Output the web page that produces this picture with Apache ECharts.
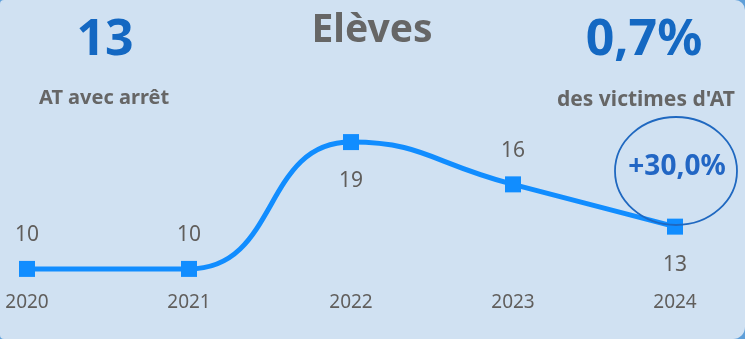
<!DOCTYPE html>
<html><head><meta charset="utf-8">
<script src="https://cdn.jsdelivr.net/npm/echarts@6/dist/echarts.min.js"></script>
<style>html,body{margin:0;padding:0;background:#5f9fd9;}#c{width:745px;height:339px;}</style>
</head><body><div id="c"></div>
<script>
const years = ['2020','2021','2022','2023','2024'];
const values = [10, 10, 19, 16, 13];
const labelPos = ['top','top','bottom','top','bottom'];
const title = 'Elèves';
const kpiLeftValue = '13';
const kpiLeftLabel = 'AT avec arrêt';
const kpiRightValue = '0,7%';
const kpiRightLabel = "des victimes d'AT";
const evolution = '+30,0%';

const F = '"Noto Sans", "Open Sans", sans-serif';
const chart = echarts.init(document.getElementById('c'));
chart.setOption({
  backgroundColor: '#5f9fd9',
  animation: false,
  grid: {left: 27, right: 70, top: 128, bottom: 56},
  xAxis: {
    type: 'category', data: years, boundaryGap: false,
    axisLine: {show: false}, axisTick: {show: false},
    axisLabel: {color: '#605e5c', fontFamily: F, fontSize: 19, margin: 10}
  },
  yAxis: {type: 'value', min: 9, max: 20, show: false, splitLine: {show: false}},
  graphic: [
    {type: 'rect', z: -10, silent: true, shape: {x: 0, y: 0, width: 745, height: 339, r: [4, 10, 12, 4]}, style: {fill: '#d0e1f2'}},
    {type: 'text', x: 372, y: 31, style: {text: title, fill: '#666666', font: 'bold 39px ' + F, textAlign: 'center', textVerticalAlign: 'middle'}},
    {type: 'text', x: 105, y: 41, style: {text: kpiLeftValue, fill: '#1468c2', font: 'bold 50px ' + F, textAlign: 'center', textVerticalAlign: 'middle'}},
    {type: 'text', x: 104, y: 98, style: {text: kpiLeftLabel, fill: '#666666', font: 'bold 20px ' + F, textAlign: 'center', textVerticalAlign: 'middle'}},
    {type: 'text', x: 644, y: 41, style: {text: kpiRightValue, fill: '#1468c2', font: 'bold 50px ' + F, textAlign: 'center', textVerticalAlign: 'middle'}},
    {type: 'text', x: 646, y: 100, style: {text: kpiRightLabel, fill: '#666666', font: 'bold 21px ' + F, textAlign: 'center', textVerticalAlign: 'middle'}},
    {type: 'ellipse', z: 10, shape: {cx: 676, cy: 171, rx: 61, ry: 54}, style: {fill: 'none', stroke: '#1f68c0', lineWidth: 1.8}},
    {type: 'text', z: 11, x: 677, y: 167, style: {text: evolution, fill: '#2266c4', font: 'bold 28px ' + F, textAlign: 'center', textVerticalAlign: 'middle'}}
  ],
  series: [{
    type: 'line', smooth: 0.5,
    data: values.map((v, i) => ({value: v, label: {position: labelPos[i], distance: labelPos[i] === 'top' ? 15 : 20}})),
    symbol: 'rect', symbolSize: 16, showAllSymbol: true,
    lineStyle: {color: '#118dff', width: 5},
    itemStyle: {color: '#118dff'},
    label: {show: true, color: '#605e5c', fontFamily: F, fontSize: 21}
  }]
});
</script></body></html>
